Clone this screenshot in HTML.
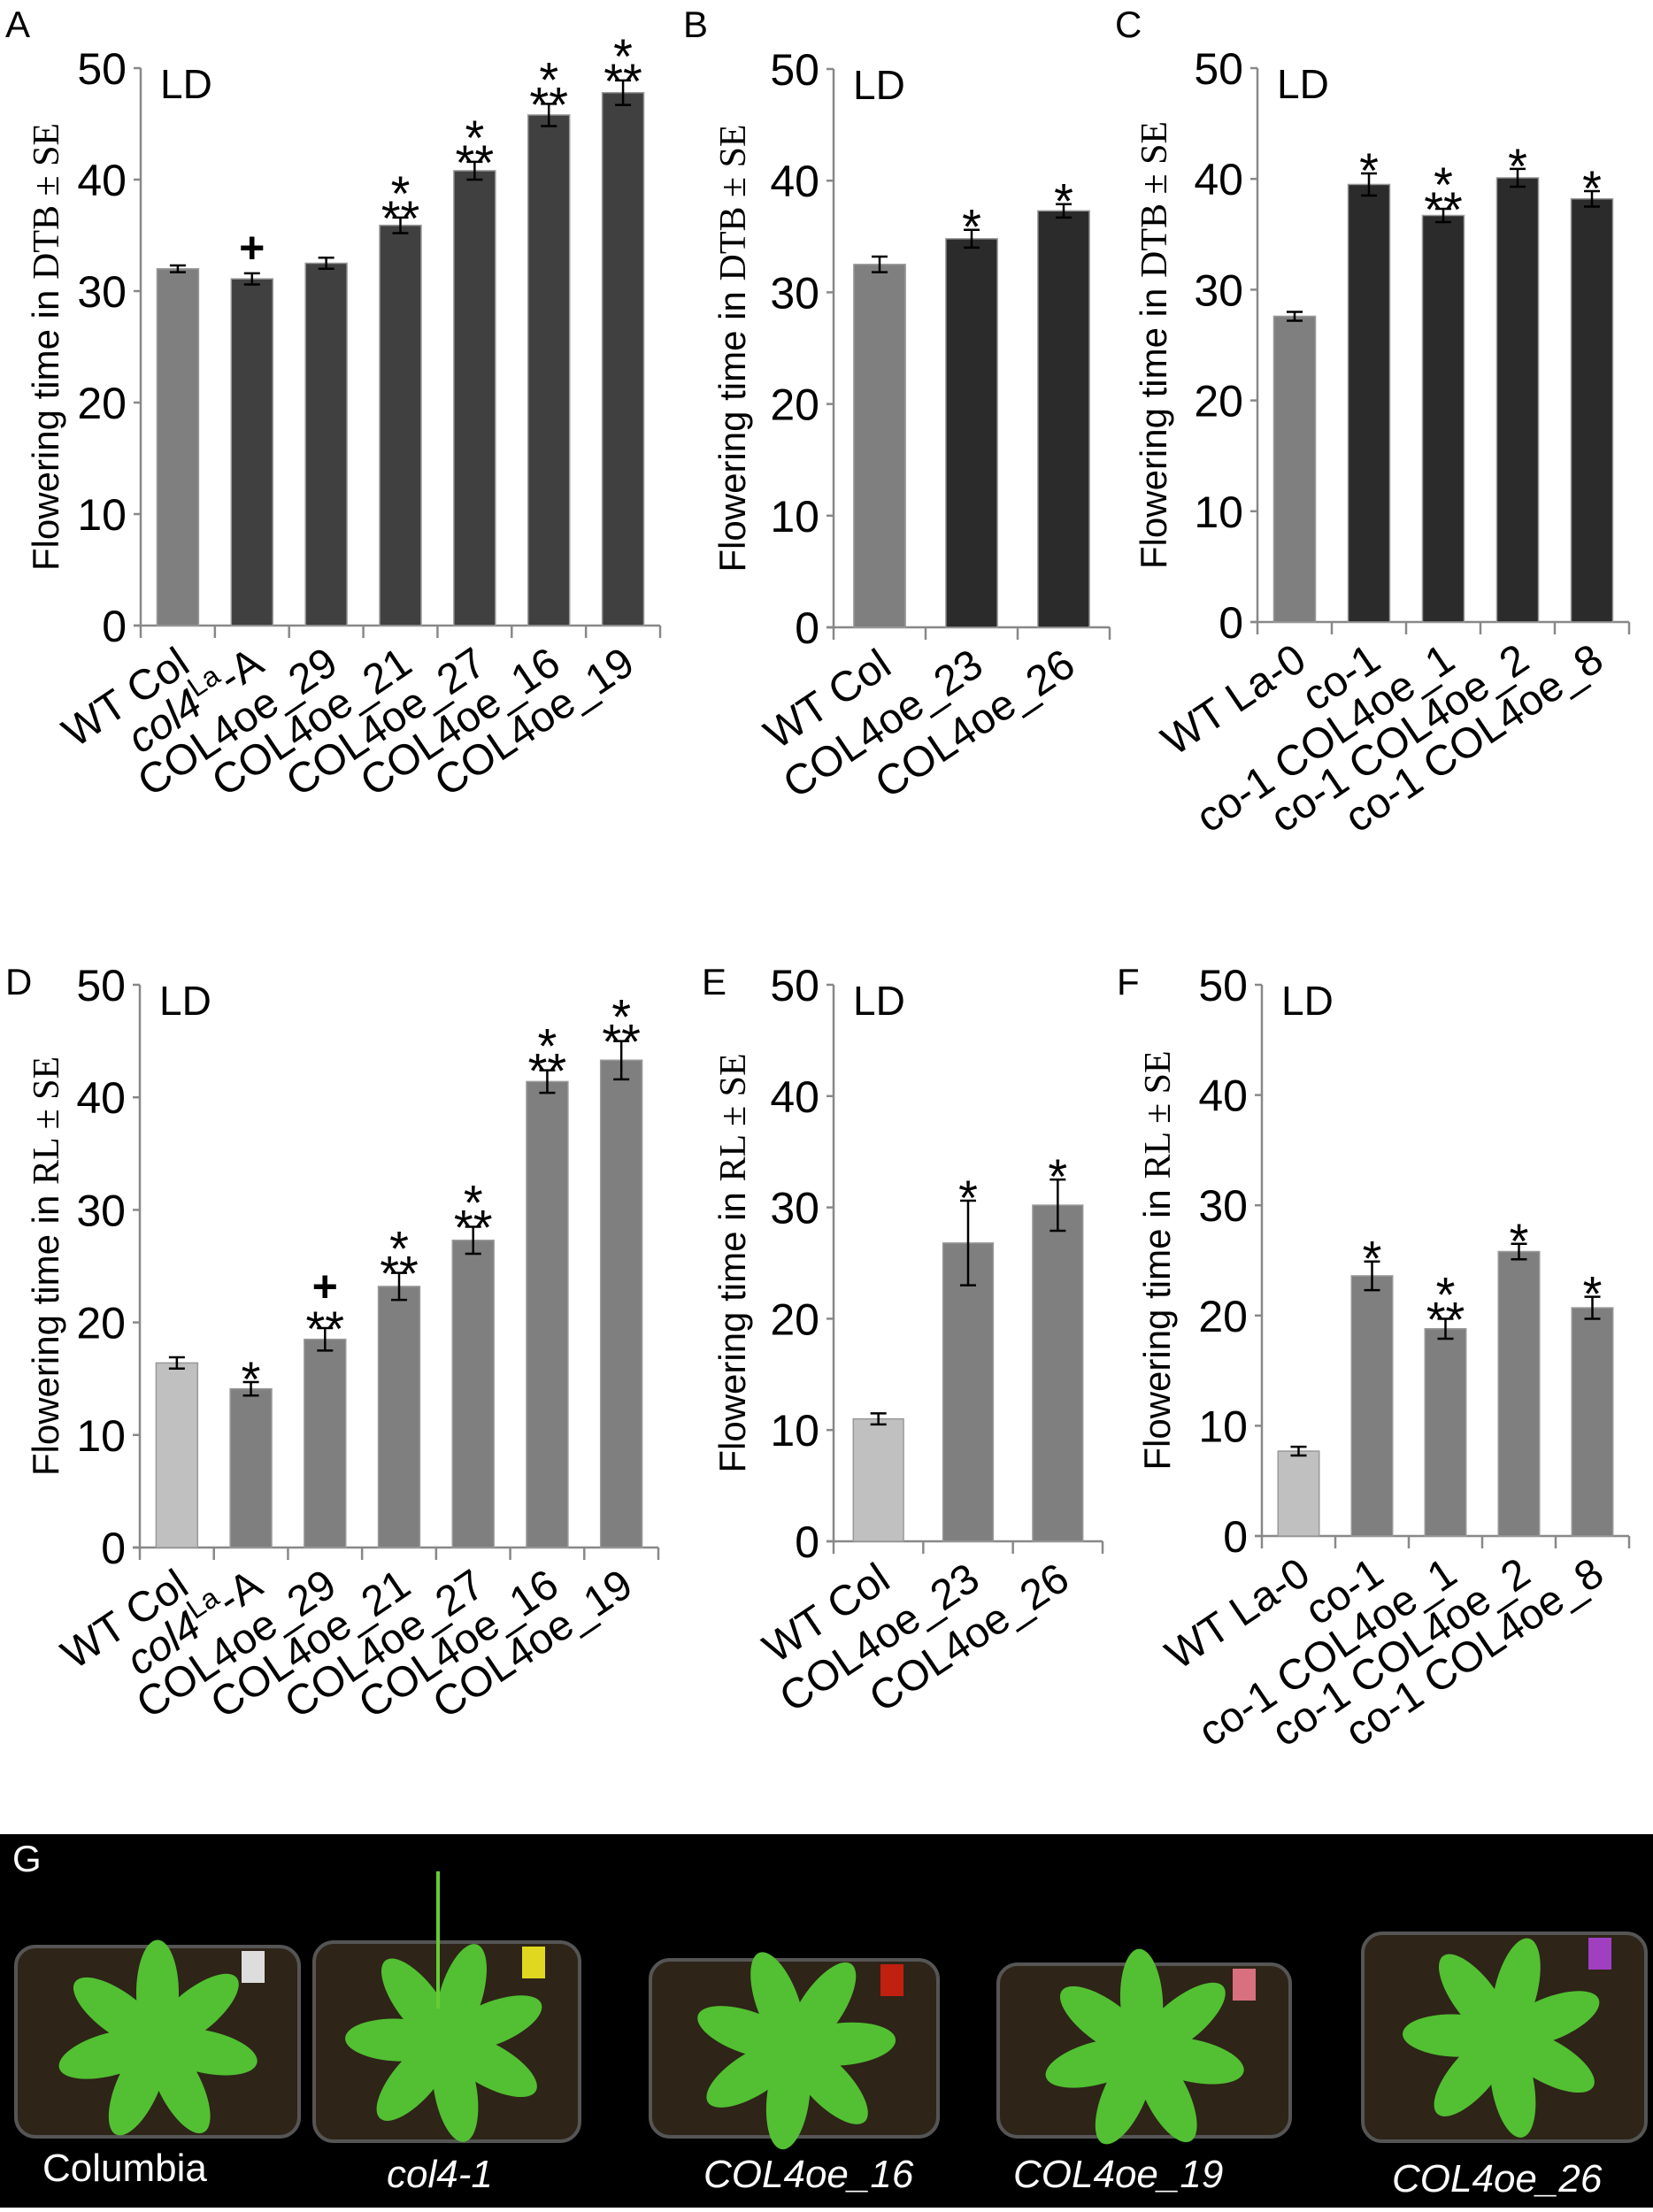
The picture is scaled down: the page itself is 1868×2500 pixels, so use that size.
<!DOCTYPE html>
<html><head><meta charset="utf-8">
<style>
html,body{margin:0;padding:0;background:#fff;}
svg{display:block;font-family:"Liberation Sans",Arial,sans-serif;}
</style></head>
<body>
<svg id="fig" width="1868" height="2500" viewBox="0 0 1868 2500" xmlns="http://www.w3.org/2000/svg"></svg>
<script>
// ---- data ----
const catsA = ["WT Col","col4La-A","COL4oe_29","COL4oe_21","COL4oe_27","COL4oe_16","COL4oe_19"];
const valsA = [32.0,31.1,32.5,35.9,40.8,45.8,47.8];
const errA  = [0.3,0.5,0.5,0.7,0.8,1.0,1.1];
const sigA  = ["","+","","***","***","***","***"];

const catsB = ["WT Col","COL4oe_23","COL4oe_26"];
const valsB = [32.5,34.8,37.3];
const errB  = [0.7,0.8,0.6];
const sigB  = ["","*","*"];

const catsC = ["WT La-0","co-1","co-1 COL4oe_1","co-1 COL4oe_2","co-1 COL4oe_8"];
const valsC = [27.6,39.5,36.7,40.1,38.2];
const errC  = [0.4,1.0,0.6,0.8,0.7];
const sigC  = ["","*","***","*","*"];

const catsD = catsA;
const valsD = [16.4,14.1,18.5,23.2,27.3,41.4,43.3];
const errD  = [0.5,0.6,1.0,1.2,1.2,1.0,1.7];
const sigD  = ["","*","+**","***","***","***","***"];

const catsE = catsB;
const valsE = [11.0,26.8,30.2];
const errE  = [0.5,3.8,2.3];
const sigE  = ["","*","*"];

const catsF = catsC;
const valsF = [7.7,23.6,18.8,25.8,20.7];
const errF  = [0.4,1.3,0.9,0.7,1.0];
const sigF  = ["","*","***","*","*"];

const yTicks = [0,10,20,30,40,50];

const NS="http://www.w3.org/2000/svg";
const svg=document.getElementById('fig');
function mk(tag,attrs,parent){const e=document.createElementNS(NS,tag);for(const k in attrs)e.setAttribute(k,attrs[k]);(parent||svg).appendChild(e);return e;}

function star(g,x,y,txt,size,bold){
  const a=mk('text',{x:x,y:y,'font-size':size,'text-anchor':'middle','font-weight':bold?'bold':'normal'},g);
  a.textContent=txt;
  
  
}

function panel(o){
  const g=mk('g',{});
  
  
  const n=o.cats.length;
  const cw=(o.x1-o.x0)/n;
  const yS=v=>o.y0-(o.y0-o.y50)*v/50;
  const xC=i=>o.x0+cw*(i+0.5);
  const L=mk('text',{x:o.lx,y:o.ly,'font-size':42,fill:'#000'},g);L.textContent=o.letter;
  
  
  const tx=o.tx, ty=(o.y0+o.y50)/2;
  const t=mk('text',{x:tx,y:ty,'font-size':42,'text-anchor':'middle',transform:`rotate(-90 ${tx} ${ty})`},g);
  
  
  const t1=mk('tspan',{},t);t1.textContent='Flowering time in ';
  const t2=mk('tspan',{'font-family':'"Liberation Serif",serif'},t);t2.textContent=o.unit+' ± SE';
  const ld=mk('text',{x:o.x0+22,y:o.y50+34,'font-size':46},g);ld.textContent='LD';
  
  
  const ax=mk('line',{x1:o.x0,y1:o.y50,x2:o.x0,y2:o.y0,stroke:'#888','stroke-width':2.5},g);
  
  
  const bx=mk('line',{x1:o.x0-8,y1:o.y0,x2:o.x1,y2:o.y0,stroke:'#888','stroke-width':2.5},g);
  
  
  yTicks.forEach(v=>{
    mk('line',{x1:o.x0-8,y1:yS(v),x2:o.x0,y2:yS(v),stroke:'#888','stroke-width':2.5},g);
    const tl=mk('text',{x:o.x0-16,y:yS(v)+18,'font-size':50,'text-anchor':'end'},g);tl.textContent=v;
    
    
  });
  for(let i=0;i<=n;i++){mk('line',{x1:o.x0+cw*i,y1:o.y0,x2:o.x0+cw*i,y2:o.y0+14,stroke:'#888','stroke-width':2.5},g);}
  const bw=cw*0.56;
  o.vals.forEach((v,i)=>{
    const cx=xC(i);
    const r=mk('rect',{x:cx-bw/2,y:yS(v),width:bw,height:o.y0-yS(v),fill:i===0?o.c0:o.c1,stroke:'#999','stroke-width':1.5},g);
    
    
    const e=o.err[i],yt=yS(v+e),yb=yS(v-e);
    mk('line',{x1:cx,y1:yt,x2:cx,y2:yb,stroke:'#000','stroke-width':2.5},g);
    mk('line',{x1:cx-9,y1:yt,x2:cx+9,y2:yt,stroke:'#000','stroke-width':2.5},g);
    mk('line',{x1:cx-9,y1:yb,x2:cx+9,y2:yb,stroke:'#000','stroke-width':2.5},g);
    const s=o.sig[i];
    if(s==='***'){star(g,cx,yt+20,'**',56);star(g,cx,yt-8,'*',56);}
    else if(s==='+**'){star(g,cx,yt+20,'**',56);star(g,cx,yt-30,'+',50,true);}
    else if(s==='+'){star(g,cx,yt-12,'+',50,true);}
    else if(s==='*'){star(g,cx,yt+16,'*',56);}
    const lx=cx+16, ly=o.y0+50;
    const c=mk('text',{x:lx,y:ly,'font-size':48,'text-anchor':'end',transform:`rotate(-34 ${lx} ${ly})`},g);
    
    
    const name=o.cats[i];
    if(name==='col4La-A'){
      const p1=mk('tspan',{'font-style':'italic'},c);p1.textContent='col4';
      const p2=mk('tspan',{'font-size':32,dy:-18},c);p2.textContent='La';
      const p3=mk('tspan',{dy:18},c);p3.textContent='-A';
    } else c.textContent=name;
  });
}
panel({letter:'A',lx:6,ly:42,tx:66,unit:'DTB',x0:159,x1:746,y50:77,y0:707,cats:catsA,vals:valsA,err:errA,sig:sigA,c0:'#7f7f7f',c1:'#404040'});
panel({letter:'B',lx:772,ly:42,tx:842,unit:'DTB',x0:942,x1:1254,y50:78,y0:709,cats:catsB,vals:valsB,err:errB,sig:sigB,c0:'#7f7f7f',c1:'#2b2b2b'});
panel({letter:'C',lx:1260,ly:42,tx:1318,unit:'DTB',x0:1421,x1:1841,y50:77,y0:703,cats:catsC,vals:valsC,err:errC,sig:sigC,c0:'#7f7f7f',c1:'#2b2b2b'});
panel({letter:'D',lx:6,ly:1124,tx:66,unit:'RL',x0:158,x1:744,y50:1113,y0:1749,cats:catsD,vals:valsD,err:errD,sig:sigD,c0:'#c0c0c0',c1:'#7f7f7f'});
panel({letter:'E',lx:793,ly:1124,tx:842,unit:'RL',x0:942,x1:1246,y50:1113,y0:1742,cats:catsE,vals:valsE,err:errE,sig:sigE,c0:'#c0c0c0',c1:'#7f7f7f'});
panel({letter:'F',lx:1262,ly:1124,tx:1322,unit:'RL',x0:1426,x1:1841,y50:1113,y0:1736,cats:catsF,vals:valsF,err:errF,sig:sigF,c0:'#c0c0c0',c1:'#7f7f7f'});

// ---- panel G (photo illustration) ----
const G=mk('g',{});


mk('rect',{x:0,y:2073,width:1868,height:427,fill:'#000'},G);
mk('rect',{x:0,y:2495,width:1868,height:5,fill:'#fff'},G);
const gl=mk('text',{x:14,y:2115,'font-size':42,fill:'#fff'},G);gl.textContent='G';
const pots=[[18,2200,320,215,'#ddd'],[355,2195,300,225,'#e0d820'],[735,2215,325,200,'#c02010'],[1128,2220,330,195,'#d87080'],[1540,2185,320,235,'#a040c0']];
pots.forEach((p,i)=>{
  const r=mk('rect',{x:p[0],y:p[1],width:p[2],height:p[3],rx:22,fill:'#2e2418',stroke:'#555','stroke-width':4},G);
  
  
  mk('rect',{x:p[0]+p[2]-65,y:p[1]+5,width:26,height:36,fill:p[4]},G);
  const cx=p[0]+p[2]/2, cy=p[1]+p[3]/2;
  for(let k=0;k<7;k++){
    const ang=k*51+i*17;
    mk('ellipse',{cx:cx,cy:cy-55,rx:24,ry:60,fill:'#52c032',transform:`rotate(${ang} ${cx} ${cy})`},G);
  }
});
mk('line',{x1:495,y1:2115,x2:495,y2:2270,stroke:'#6c3','stroke-width':4},G);
const plabels=[["Columbia",48,2465,'normal'],["col4-1",437,2472,'italic'],["COL4oe_16",795,2472,'italic'],["COL4oe_19",1145,2472,'italic'],["COL4oe_26",1573,2477,'italic']];
plabels.forEach(l=>{
  const t=mk('text',{x:l[1],y:l[2],'font-size':44,fill:'#fff','font-style':l[3]},G);t.textContent=l[0];
  
  
});
</script>
</body></html>
